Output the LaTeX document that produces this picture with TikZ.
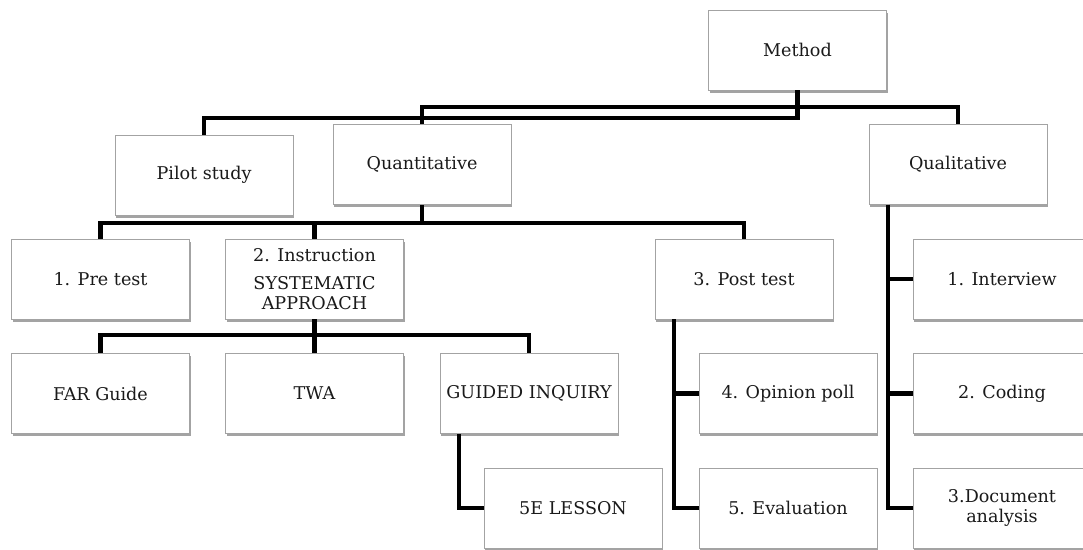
\documentclass[tikz,border=0pt]{standalone}
\usepackage{fontspec}
\setmainfont{DejaVu Serif}
\usetikzlibrary{positioning, shadows, calc}
\definecolor{boxedge}{HTML}{A3A3A3}
\definecolor{boxshade}{HTML}{8C8C8C}
\definecolor{boxtext}{HTML}{1A1A1A}

\begin{document}
\begin{tikzpicture}[x=0.025cm, y=-0.025cm,
    font=\fontsize{12.5}{14}\selectfont,
    box/.style={draw=boxedge, fill=white, text=boxtext,
                minimum width=4.45cm, minimum height=2cm, align=center,
                drop shadow={shadow xshift=1pt, shadow yshift=-2pt,
                             fill=boxshade, opacity=0.8}},
    link/.style={line width=3pt}]
  \clip (0,0) rectangle (1083,549);

  % top levels
  \node[box] (method) at (797.5,50) {Method};
  \node[box] (pilot) at (204,175) {Pilot study};
  \node[box] (quant) at (422,164.5) {Quantitative};
  \node[box] (qual) at (958,164.5) {Qualitative};

  % quantitative branch
  \node[box] (pre) at (100.5,279) {1. Pre test};
  \node[box] (instr) at (314.5,279) {2. Instruction\\[6pt]SYSTEMATIC\\APPROACH};
  \node[box] (post) at (744,279) {3. Post test};
  \node[box] (far) at (100.5,393.5) {FAR Guide};
  \node[box] (twa) at (314.5,393.5) {TWA};
  \node[box] (guided) at (529,393.5) {GUIDED INQUIRY};
  \node[box] (lesson) at (573,508) {5E LESSON};
  \node[box] (poll) at (788,393.5) {4. Opinion poll};
  \node[box] (eval) at (788,508) {5. Evaluation};

  % qualitative branch
  \node[box] (interview) at (1002,279) {1. Interview};
  \node[box] (coding) at (1002,393.5) {2. Coding};
  \node[box] (docu) at (1002,508) {3.Document\\analysis};

  \draw[link] (method.south) -- ++(0,28) -| (pilot.north);
  \draw[link] (quant.north) -- ++(0,-17) -| (qual.north);

  \draw[link] (quant.south) -- ++(0,18) coordinate (qbus) -| (pre.north);
  \draw[link] (qbus) -| (post.north);
  \draw[link] (instr.north) -- (instr.north |- qbus);

  \draw[link] (instr.south) -- ++(0,16) coordinate (ibus) -| (far.north);
  \draw[link] (ibus) -| (guided.north);
  \draw[link] (ibus) -- (twa.north);
  \draw[link] ([xshift=-1.75cm]guided.south) |- (lesson.west);

  \draw[link] ([xshift=0.475cm]post.south west) |- (poll.west);
  \draw[link] ([xshift=0.475cm]post.south west) |- (eval.west);

  \draw[link] ([xshift=0.475cm]qual.south west) |- (interview.west);
  \draw[link] ([xshift=0.475cm]qual.south west) |- (coding.west);
  \draw[link] ([xshift=0.475cm]qual.south west) |- (docu.west);
\end{tikzpicture}
\end{document}
